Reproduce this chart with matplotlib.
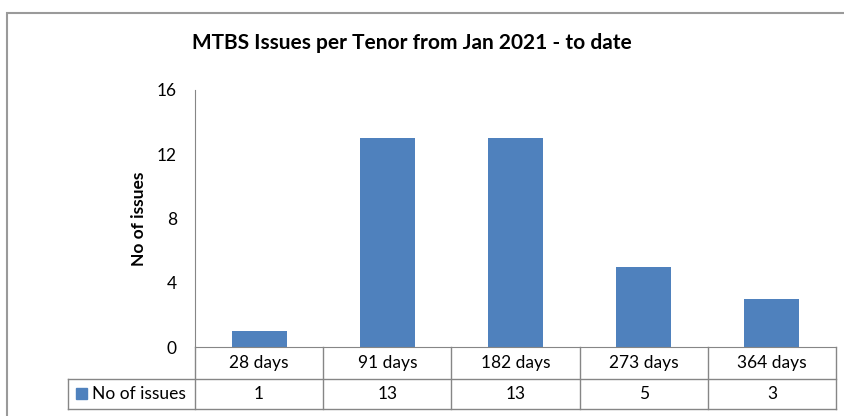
import matplotlib.pyplot as plt
import matplotlib.transforms as mtransforms
from matplotlib.patches import Rectangle
from matplotlib.lines import Line2D

tenors = ['28 days', '91 days', '182 days', '273 days', '364 days']
issues = [1, 13, 13, 5, 3]
series_name = 'No of issues'
yticks = [0, 4, 8, 12, 16]

bar_color = '#4F81BD'
line_color = '#868686'

plt.rcParams['font.family'] = ['Lato', 'DejaVu Sans']

W, H = 844, 416
fig = plt.figure(figsize=(W / 100, H / 100), dpi=100)


def fx(x):
    return x / W


def fy(y):
    return 1 - y / H


# outer chart border (runs off the right/bottom edge)
fig.patches.append(Rectangle((fx(7), fy(430)), fx(850) - fx(7), fy(13) - fy(430),
                             transform=fig.transFigure, fill=False,
                             edgecolor='#9a9a9a', linewidth=1.5))

left, right, top, bottom = 195, 836, 90, 347
ax = fig.add_axes([fx(left), fy(bottom), fx(right) - fx(left), fy(top) - fy(bottom)])
x = list(range(len(tenors)))
ax.bar(x, issues, width=0.43, color=bar_color)
ax.set_xlim(-0.5, len(tenors) - 0.5)
ax.set_ylim(0, 16)
ax.set_yticks(yticks)
ax.tick_params(axis='y', length=0, pad=13, labelsize=12.5)
ax.set_xticks([])
for s in ['top', 'right']:
    ax.spines[s].set_visible(False)
ax.spines['left'].set_color(line_color)
ax.spines['bottom'].set_color(line_color)

# y axis title
fig.text(fx(139), fy(219), series_name, rotation=90, ha='center', va='center',
         fontsize=12.5, fontweight='bold')

fig.text(fx(412), fy(43), 'MTBS Issues per Tenor from Jan 2021 - to date',
         ha='center', va='center', fontsize=15, fontweight='bold')

# data table below the axis
tr = mtransforms.blended_transform_factory(ax.transData, fig.transFigure)
row1, row2, row3 = 347, 379, 409
key_left = 68
edges = [i - 0.5 for i in range(len(tenors) + 1)]
for e in edges:
    fig.add_artist(Line2D([e, e], [fy(row1), fy(row3)], transform=tr,
                          color=line_color, linewidth=1))
fig.add_artist(Line2D([fx(key_left), fx(right)], [fy(row2), fy(row2)],
                      transform=fig.transFigure, color=line_color, linewidth=1))
fig.add_artist(Line2D([fx(key_left), fx(right)], [fy(row3), fy(row3)],
                      transform=fig.transFigure, color=line_color, linewidth=1))
fig.add_artist(Line2D([fx(key_left), fx(key_left)], [fy(row2), fy(row3)],
                      transform=fig.transFigure, color=line_color, linewidth=1))

for i, (t, v) in enumerate(zip(tenors, issues)):
    fig.text(i, fy((row1 + row2) / 2), t, transform=tr, ha='center', va='center', fontsize=12.5)
    fig.text(i, fy((row2 + row3) / 2), str(v), transform=tr, ha='center', va='center', fontsize=12.5)

fig.patches.append(Rectangle((fx(76), fy(399)), fx(11), fy(388) - fy(399),
                             transform=fig.transFigure, color=bar_color))
fig.text(fx(92), fy((row2 + row3) / 2), series_name, ha='left', va='center', fontsize=12.5)

fig.savefig('out.png', dpi=100)
